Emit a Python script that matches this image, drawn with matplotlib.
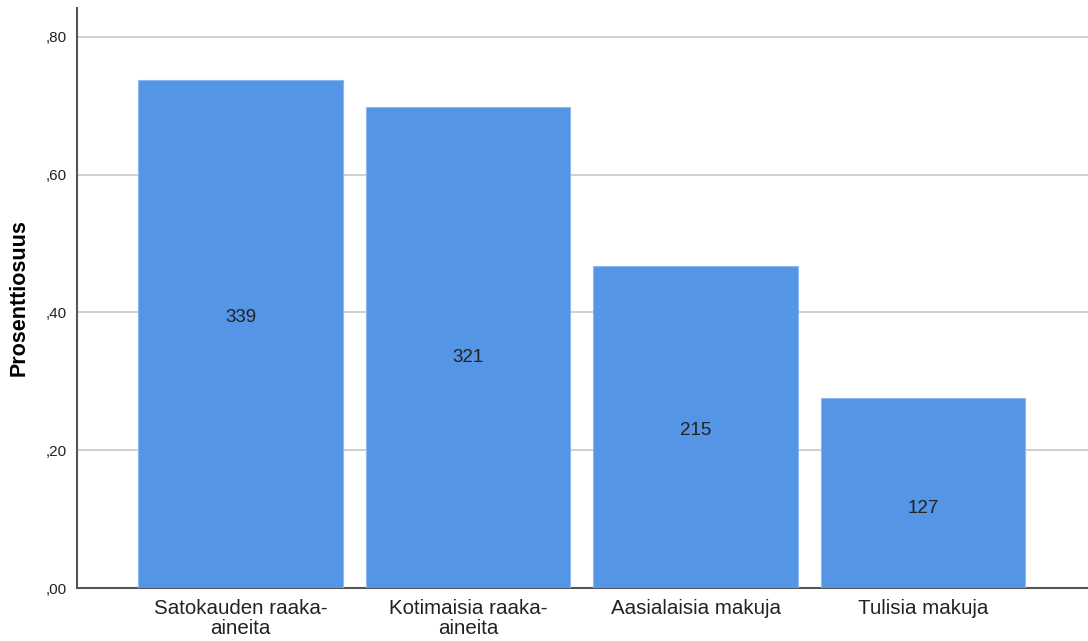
import matplotlib.pyplot as plt
import numpy as np

# answers per option, n = 460 respondents
categories = ['Satokauden raaka-\naineita', 'Kotimaisia raaka-\naineita',
              'Aasialaisia makuja', 'Tulisia makuja']
counts = [339, 321, 215, 127]
n_total = 460
shares = [c / n_total for c in counts]
yticks = [0.0, 0.2, 0.4, 0.6, 0.8]
ytick_labels = [',00', ',20', ',40', ',60', ',80']

# height where the count sits inside each bar
label_y = [0.393, 0.335, 0.229, 0.116]

plt.rcParams['font.family'] = ['Liberation Sans', 'DejaVu Sans']

fig = plt.figure(figsize=(10.88, 6.41), dpi=100)
ax = fig.add_axes([77 / 1088, 1 - 588 / 641, 1 - 77 / 1088, 580 / 641])

x = np.arange(len(categories))
ax.bar(x, shares, width=0.9, color='#5595e5', edgecolor='#8db8ee',
       linewidth=0.8, zorder=3)
for xi, yi, c in zip(x, label_y, counts):
    ax.text(xi, yi, str(c), ha='center', va='center', fontsize=13.5,
            color='#222222', zorder=4)

ax.set_xlim(-0.719, 3.725)
ax.set_ylim(0, 0.842)
ax.set_yticks(yticks)
ax.set_yticklabels(ytick_labels, fontsize=11)
ax.set_xticks(x)
ax.set_xticklabels(categories, fontsize=14.8, linespacing=1.05)
ax.tick_params(axis='both', length=0, colors='#222222')
ax.tick_params(axis='y', pad=7)
ax.tick_params(axis='x', pad=8)

ax.grid(axis='y', color='#cccccc', linewidth=1.3, zorder=0)
for s in ['top', 'right']:
    ax.spines[s].set_visible(False)
for s in ['left', 'bottom']:
    ax.spines[s].set_color('#555555')
    ax.spines[s].set_linewidth(1.5)

ax.set_ylabel('Prosenttiosuus', fontsize=15.5, fontweight='bold', labelpad=12)

plt.savefig('out.png', dpi=100)
